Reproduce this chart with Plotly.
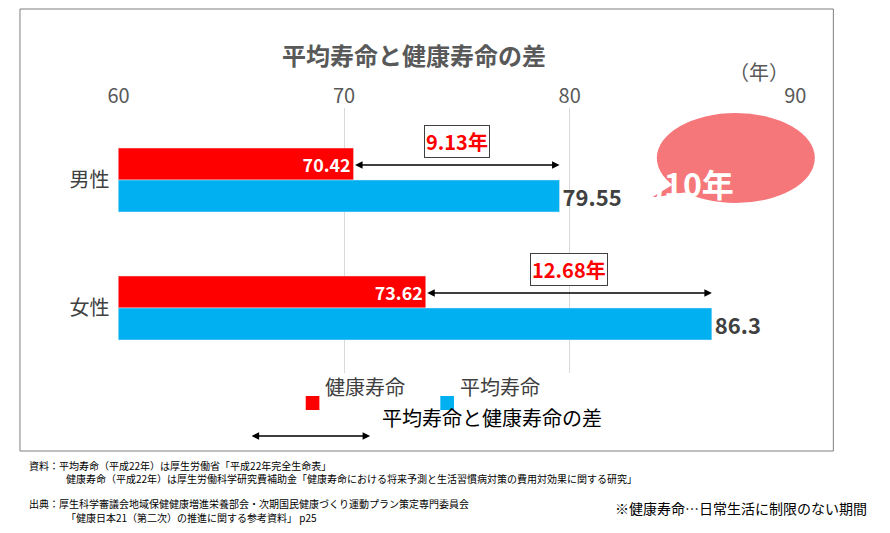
import plotly.graph_objects as go

categories = ["男性", "女性"]
healthy = [70.42, 73.62]
average = [79.55, 86.3]
diff_labels = ["9.13年", "12.68年"]
tick_vals = [60, 70, 80, 90]

W, H = 890, 533
def px(x): return x / W
def py(y): return 1 - y / H

F = "Noto Sans CJK JP"
RED, BLUE = "#ff0000", "#00b0f0"

fig = go.Figure()
fig.add_bar(y=[0, 1], x=healthy, orientation="h", marker_color=RED, name="健康寿命",
            text=[f"{v:.2f}" for v in healthy], textposition="inside", insidetextanchor="end",
            textfont=dict(color="white", size=22, family=F, weight="bold"), cliponaxis=False)
fig.add_bar(y=[0, 1], x=average, orientation="h", marker_color=BLUE, name="平均寿命",
            text=[f"{v:g}" for v in average], textposition="outside",
            textfont=dict(color="#404040", size=22, family=F, weight="bold"), cliponaxis=False)

ann = []
shapes = []
for i in range(2):
    yy = i - 0.117
    ann.append(dict(x=average[i], y=yy, ax=healthy[i], ay=yy, xref="x", yref="y", axref="x", ayref="y",
                    text="", showarrow=True, arrowhead=2, startarrowhead=2, arrowside="end+start",
                    arrowwidth=1.5, arrowsize=1, startarrowsize=1, arrowcolor="black"))
    ann.append(dict(x=(healthy[i] + average[i]) / 2, y=i - 0.3, xref="x", yref="y", text=diff_labels[i],
                    showarrow=False, font=dict(color=RED, size=20, family=F, weight="bold"),
                    bordercolor="#404040", borderwidth=1, bgcolor="white", borderpad=1))

ann.append(dict(x=px(405), y=py(27), xref="paper", yref="paper", text="平均寿命と健康寿命の差", showarrow=False,
                font=dict(size=24, color="#595959", family=F, weight="bold")))
ann.append(dict(x=px(792), y=py(47), xref="paper", yref="paper", text="（年）", showarrow=False,
                font=dict(size=20, color="#595959", family=F)))
# bubble
shapes.append(dict(type="path", xref="paper", yref="paper", fillcolor="#f5777a", line_width=0,
                   path=f"M {px(690)},{py(165)} L {px(648)},{py(190)} L {px(710)},{py(180)} Z"))
shapes.append(dict(type="circle", xref="paper", yref="paper", fillcolor="#f5777a", line_width=0,
                   x0=px(654), x1=px(816), y0=py(105), y1=py(195)))
ann.append(dict(x=px(735), y=py(150), xref="paper", yref="paper", text="約10年", showarrow=False,
                font=dict(size=32, color="white", family=F, weight="bold")))
# frame
shapes.append(dict(type="rect", xref="paper", yref="paper", x0=px(1), x1=px(835), y0=py(1), y1=py(443),
                   line=dict(color="#7f7f7f", width=1)))
# legend
for x0, c, t in [(294, RED, "健康寿命"), (432, BLUE, "平均寿命")]:
    shapes.append(dict(type="rect", xref="paper", yref="paper", x0=px(x0), x1=px(x0 + 14),
                       y0=py(402), y1=py(388), fillcolor=c, line_width=0))
    ann.append(dict(x=px(x0 + 18), y=py(395), xref="paper", yref="paper", xanchor="left", text=t,
                    showarrow=False, font=dict(size=20, color="#404040", family=F)))
ann.append(dict(x=px(360), y=py(428), ax=-120, ay=0, xref="paper", yref="paper",
                axref="pixel", ayref="pixel", text="", showarrow=True, arrowhead=2, startarrowhead=2,
                arrowside="end+start", arrowwidth=1.5, arrowcolor="black"))
ann.append(dict(x=px(370), y=py(426), xref="paper", yref="paper", xanchor="left", text="平均寿命と健康寿命の差",
                showarrow=False, font=dict(size=20, color="black", family=F)))
# notes
notes = [(8, 467, "資料：平均寿命（平成22年）は厚生労働省「平成22年完全生命表」"),
         (46, 480, "健康寿命（平成22年）は厚生労働科学研究費補助金「健康寿命における将来予測と生活習慣病対策の費用対効果に関する研究」"),
         (8, 505, "出典：厚生科学審議会地域保健健康増進栄養部会・次期国民健康づくり運動プラン策定専門委員会"),
         (46, 519, "「健康日本21（第二次）の推進に関する参考資料」 p25")]
for x, y, t in notes:
    ann.append(dict(x=px(x), y=py(y), xref="paper", yref="paper", xanchor="left", text=t, showarrow=False,
                    font=dict(size=10, color="black", family=F)))
ann.append(dict(x=px(872), y=py(512), xref="paper", yref="paper", xanchor="right",
                text="※健康寿命…日常生活に制限のない期間", showarrow=False,
                font=dict(size=14, color="black", family=F)))

fig.update_layout(
    width=W, height=H, margin=dict(l=0, r=0, t=0, b=0), plot_bgcolor="white", paper_bgcolor="white",
    barmode="group", bargap=0.5, bargroupgap=0, showlegend=False,
    annotations=ann, shapes=shapes,
    xaxis=dict(domain=[px(102), px(796)], range=[60, 90], side="top", tickvals=tick_vals,
               showgrid=True, gridcolor="#d9d9d9", zeroline=False, showline=False,
               tickfont=dict(size=20, color="#595959", family=F), ticks=""),
    yaxis=dict(domain=[py(365), py(100)], range=[1.508, -0.5625], tickvals=[0, 1], ticktext=categories,
               tickfont=dict(size=20, color="#404040", family=F), showgrid=False, zeroline=False,
               ticks="", ticklabelstandoff=8),
)
fig.write_html("out.html")
